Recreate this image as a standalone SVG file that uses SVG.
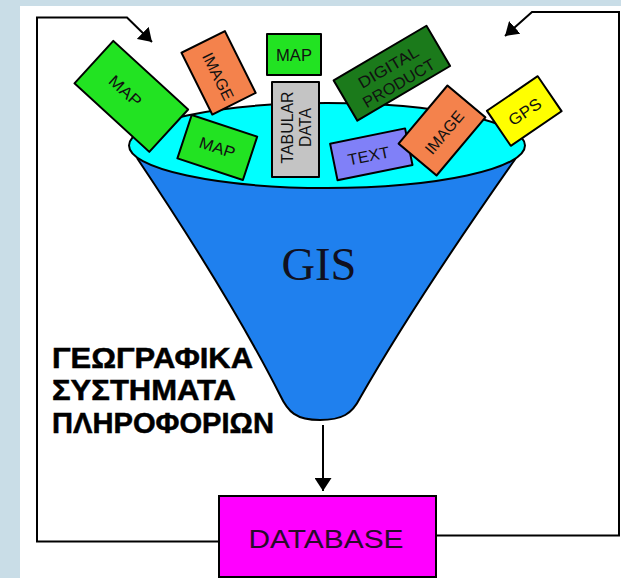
<svg xmlns="http://www.w3.org/2000/svg" width="621" height="578" viewBox="0 0 621 578">
<defs>
<style>
.bx{stroke:#000;stroke-width:2;stroke-linejoin:round}
.lb{font-family:"Liberation Sans",Arial,sans-serif;font-size:16px;fill:#111;text-anchor:middle}
.ln{fill:none;stroke:#000;stroke-width:2}
.green{fill:#22e322}
.orange{fill:#f4824c}
.dgreen{fill:#1b7a1b}
.purple{fill:#8080f8}
.yellow{fill:#ffff00}
.gray{fill:#c4c4c4}
.greek{font-family:"Liberation Sans",Arial,sans-serif;font-weight:bold;font-size:29px;fill:#000;stroke:#000;stroke-width:0.5}
</style>
<marker id="ah" viewBox="0 0 13 17" refX="13" refY="8.5" markerWidth="13" markerHeight="17" markerUnits="userSpaceOnUse" orient="auto">
<path d="M0,0 L13,8.5 L0,17 Z" fill="#000"/>
</marker>
</defs>
<rect width="621" height="578" fill="#c9dde7"/>
<rect x="20" y="6" width="601" height="572" fill="#fff"/>

<g id="connectors">
<path class="ln" d="M219,541.5 L37,541.5 L37,17.5 L127,17.5 L152,42" marker-end="url(#ah)"/>
<path class="ln" d="M436,535.5 L619,535.5 L619,12 L532,12 L505,36" marker-end="url(#ah)"/>
<path class="ln" d="M323,425 L323,491" marker-end="url(#ah)"/>
</g>

<g id="funnel">
<path d="M137,158 Q232,300 280,395 C288,412 296,420 320,420 C342,420 352,414 360,398 Q416,300 516,158" fill="#1f80ee" stroke="#000" stroke-width="2"/>
<ellipse cx="327" cy="145.5" rx="198" ry="42.5" fill="#00ffff" stroke="#000" stroke-width="2"/>
<text x="319" y="280" font-family="'Liberation Serif','Times New Roman',serif" font-size="46" fill="#101020" text-anchor="middle" textLength="75" lengthAdjust="spacingAndGlyphs">GIS</text>
</g>

<g id="map-big" transform="translate(131.3,96.4) rotate(42.5)">
<rect class="bx green" x="-50.75" y="-28.75" width="101.5" height="57.5"/>
<text class="lb" x="-8" y="0" dy="0.35em" textLength="38" lengthAdjust="spacingAndGlyphs">MAP</text>
</g>

<g id="image-left" transform="translate(218.6,72.8) rotate(63.5)">
<rect class="bx orange" x="-34.5" y="-24.25" width="69" height="48.5"/>
<text class="lb" x="3" y="2" dy="0.35em" textLength="51" lengthAdjust="spacingAndGlyphs">IMAGE</text>
</g>

<g id="map-top">
<rect class="bx green" x="267" y="34" width="54" height="41"/>
<text class="lb" x="294" y="55.5" dy="0.35em" textLength="36" lengthAdjust="spacingAndGlyphs">MAP</text>
</g>

<g id="tabular-data">
<rect class="bx gray" x="272" y="82" width="47" height="95"/>
<text class="lb" transform="translate(292.5,127.5) rotate(-90)" textLength="72" lengthAdjust="spacingAndGlyphs" style="font-size:17px">TABULAR</text>
<text class="lb" transform="translate(310.5,127.5) rotate(-90)" textLength="39" lengthAdjust="spacingAndGlyphs" style="font-size:17px">DATA</text>
</g>

<g id="digital-product" transform="translate(391.9,73.2) rotate(-30.5)">
<rect class="bx dgreen" x="-53.85" y="-23.35" width="107.7" height="46.7"/>
<text class="lb" x="0" y="-7" dy="0.35em" textLength="67" lengthAdjust="spacingAndGlyphs">DIGITAL</text>
<text class="lb" x="1" y="12" dy="0.35em" textLength="81" lengthAdjust="spacingAndGlyphs">PRODUCT</text>
</g>

<g id="map-small" transform="translate(217.3,147.5) rotate(18.3)">
<rect class="bx green" x="-34.5" y="-22.75" width="69" height="45.5"/>
<text class="lb" x="0" y="0" dy="0.35em" textLength="37" lengthAdjust="spacingAndGlyphs">MAP</text>
</g>

<g id="text-box" transform="translate(371.3,154.3) rotate(-11.5)">
<rect class="bx purple" x="-38.25" y="-18.65" width="76.5" height="37.3"/>
<text class="lb" x="-3" y="1" dy="0.35em" textLength="42" lengthAdjust="spacingAndGlyphs">TEXT</text>
</g>

<g id="image-right" transform="translate(442,130.5) rotate(-50)">
<rect class="bx orange" x="-38" y="-24.75" width="76" height="49.5"/>
<text class="lb" x="0" y="3" dy="0.35em" textLength="51" lengthAdjust="spacingAndGlyphs">IMAGE</text>
</g>

<g id="gps" transform="translate(524.25,111) rotate(-34.3)">
<rect class="bx yellow" x="-30.75" y="-21.15" width="61.5" height="42.3"/>
<text class="lb" x="0" y="1" dy="0.35em" textLength="36" lengthAdjust="spacingAndGlyphs">GPS</text>
</g>

<g id="title">
<text class="greek" x="52" y="368" textLength="201" lengthAdjust="spacingAndGlyphs">ΓΕΩΓΡΑΦΙΚΑ</text>
<text class="greek" x="52" y="400" textLength="184" lengthAdjust="spacingAndGlyphs">ΣΥΣΤΗΜΑΤΑ</text>
<text class="greek" x="52" y="433" textLength="222" lengthAdjust="spacingAndGlyphs">ΠΛΗΡΟΦΟΡΙΩΝ</text>
</g>

<g id="database">
<rect x="219" y="496" width="217" height="81" fill="#ff00ff" stroke="#000" stroke-width="2"/>
<text x="326" y="548" font-family="'Liberation Sans',Arial,sans-serif" font-size="26" fill="#2a0a2a" text-anchor="middle" textLength="155" lengthAdjust="spacingAndGlyphs">DATABASE</text>
</g>
</svg>
